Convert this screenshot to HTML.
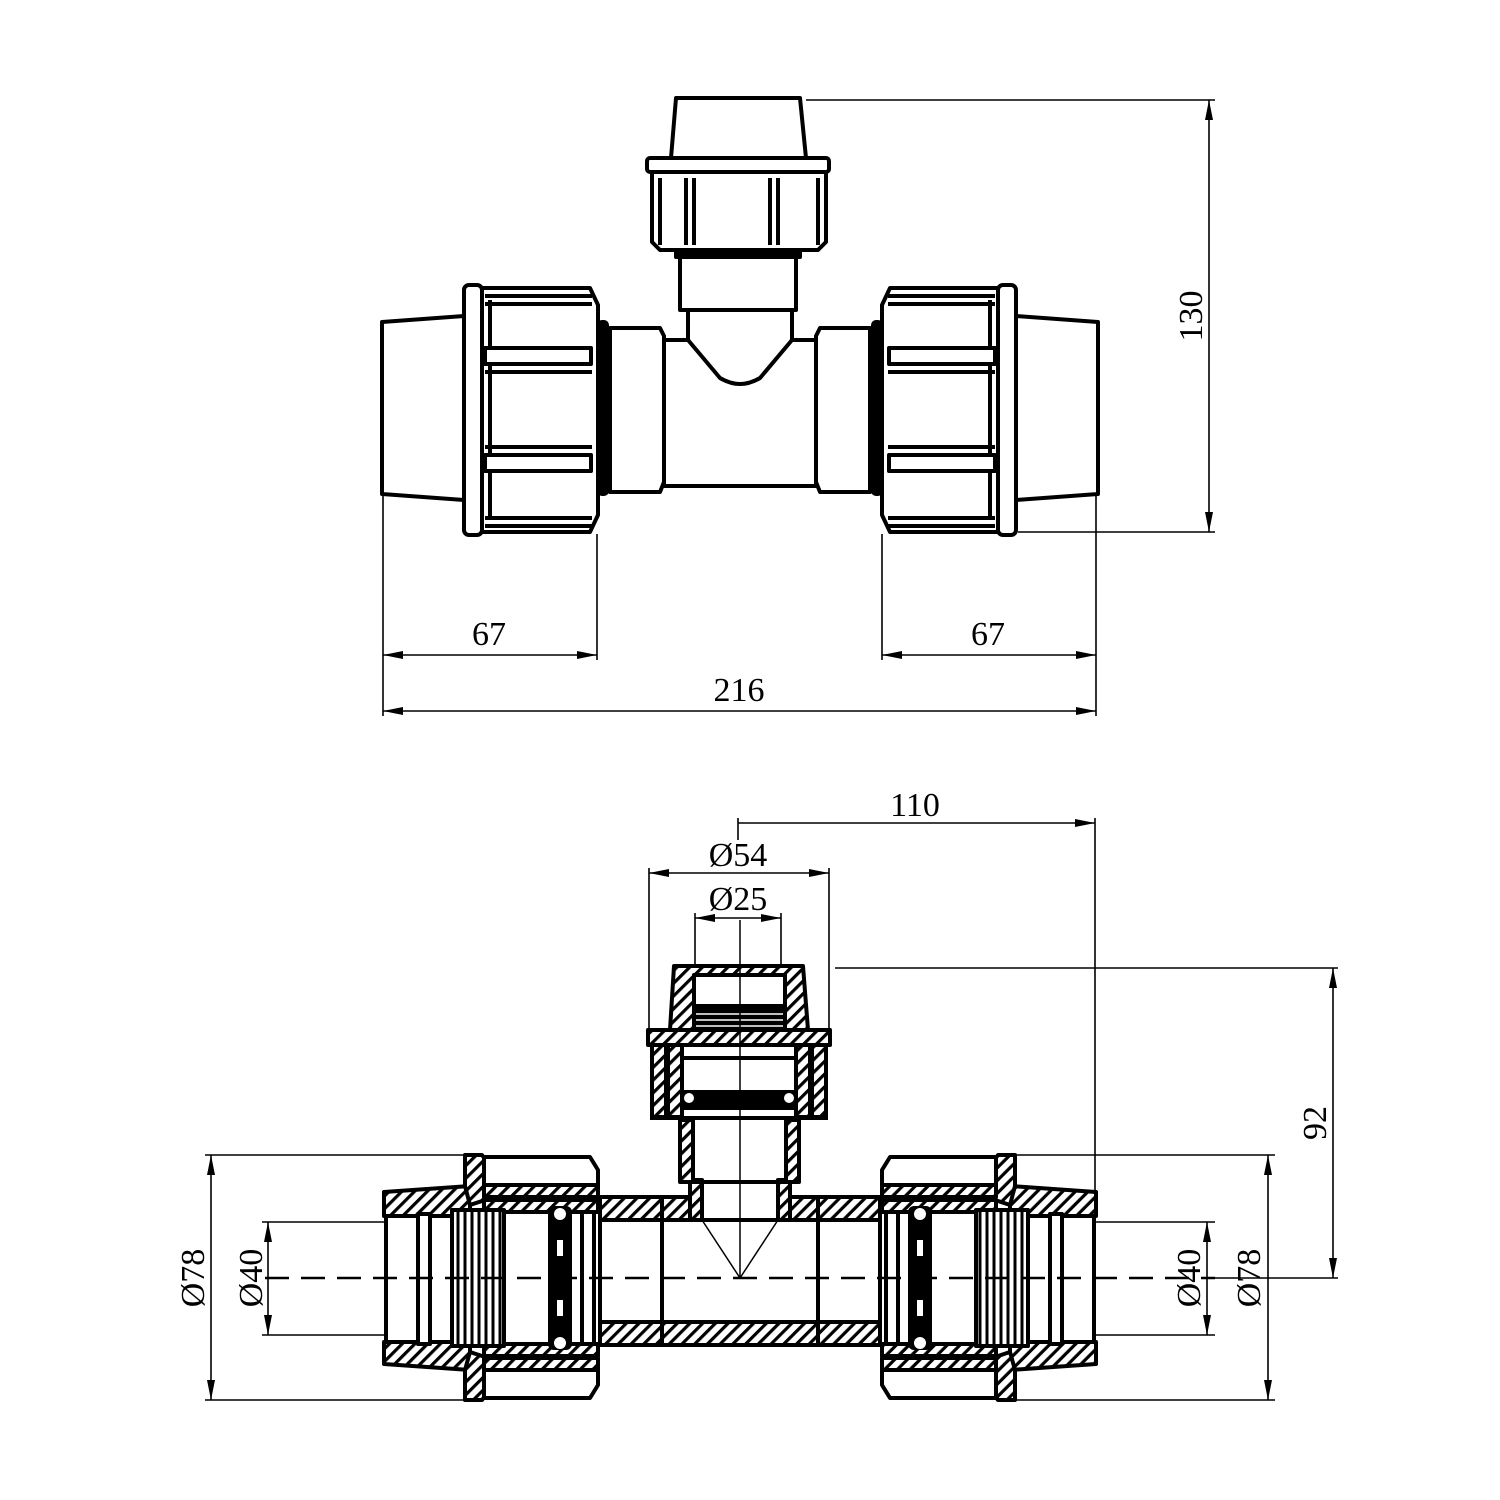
<!DOCTYPE html>
<html><head><meta charset="utf-8"><style>
html,body{margin:0;padding:0;background:#fff;}
svg{display:block;}
text{font-family:"Liberation Serif",serif;font-size:34px;fill:#000;}
</style></head><body>
<svg width="1500" height="1500" viewBox="0 0 1500 1500" xmlns="http://www.w3.org/2000/svg">
<defs>
<pattern id="h" patternUnits="userSpaceOnUse" width="9" height="9" patternTransform="rotate(45)">
<rect width="9" height="9" fill="#fff"/><rect x="0" y="0" width="3.2" height="9" fill="#000"/>
</pattern>
<pattern id="h2" patternUnits="userSpaceOnUse" width="9" height="9" patternTransform="rotate(-45)">
<rect width="9" height="9" fill="#fff"/><rect x="0" y="0" width="3.2" height="9" fill="#000"/>
</pattern>
<marker id="a" viewBox="0 0 20 8" refX="20" refY="4" markerWidth="20" markerHeight="8" orient="auto-start-reverse" markerUnits="userSpaceOnUse">
<path d="M0,0 L20,4 L0,8 z" fill="#000"/>
</marker>
<g id="topHalf" fill="#fff" stroke="#000" stroke-width="4" stroke-linejoin="round">
<path d="M382,322 L464,316 L464,500 L382,494 Z"/>
<rect x="464" y="285" width="18" height="250" rx="5"/>
<path d="M482,288 L590,288 L598,305 L598,515 L590,532 L482,532 Z"/>
<line x1="490" y1="300" x2="490" y2="520"/>
<line x1="485" y1="296" x2="592" y2="296"/>
<line x1="485" y1="304" x2="592" y2="304"/>
<line x1="485" y1="518" x2="592" y2="518"/>
<line x1="485" y1="526" x2="592" y2="526"/>
<rect x="485" y="348" width="106" height="16"/>
<line x1="485" y1="372" x2="592" y2="372"/>
<rect x="485" y="455" width="106" height="16"/>
<line x1="485" y1="447" x2="592" y2="447"/>
<rect x="599" y="322" width="8" height="172" rx="3" fill="#000"/>
<path d="M610,328 L660,328 L664,336 L664,482 L660,492 L610,492 Z"/>
</g>
<g id="botHalf" stroke="#000" stroke-width="4" stroke-linejoin="round">
<path d="M384,1192 L470,1186 L470,1216 L384,1216 Z"/>
<path d="M384,1342 L470,1342 L470,1370 L384,1364 Z"/>
<line x1="386" y1="1216" x2="386" y2="1342" />
<line x1="430" y1="1216" x2="430" y2="1342"/>
<rect x="418" y="1214" width="12" height="130" fill="#fff"/>
<path d="M465,1155 L482,1155 L500,1180 L500,1195 L470,1205 L465,1186 Z"/>
<path d="M465,1400 L482,1400 L500,1376 L500,1362 L470,1352 L465,1370 Z"/>
<path d="M484,1157 L590,1157 L598,1170 L598,1185 L484,1185 Z" fill="#fff"/>
<rect x="484" y="1185" width="114" height="12"/>
<rect x="484" y="1200" width="114" height="12"/>
<path d="M484,1398 L590,1398 L598,1385 L598,1370 L484,1370 Z" fill="#fff"/>
<rect x="484" y="1358" width="114" height="12"/>
<rect x="484" y="1344" width="114" height="12"/>
<rect x="452" y="1210" width="52" height="136" fill="#fff"/>
<g stroke-width="3">
<line x1="458" y1="1210" x2="458" y2="1346"/><line x1="465" y1="1210" x2="465" y2="1346"/>
<line x1="472" y1="1210" x2="472" y2="1346"/><line x1="479" y1="1210" x2="479" y2="1346"/>
<line x1="486" y1="1210" x2="486" y2="1346"/><line x1="493" y1="1210" x2="493" y2="1346"/>
<line x1="500" y1="1210" x2="500" y2="1346"/>
</g>
<rect x="550" y="1208" width="20" height="140" fill="#000" rx="4"/>
<circle cx="560" cy="1214" r="6" fill="#fff" stroke="none"/>
<circle cx="560" cy="1343" r="6" fill="#fff" stroke="none"/>
<rect x="557" y="1240" width="6" height="16" fill="#fff" stroke="none"/>
<rect x="557" y="1300" width="6" height="16" fill="#fff" stroke="none"/>
<line x1="582" y1="1210" x2="582" y2="1346"/>
<line x1="594" y1="1210" x2="594" y2="1346"/>
<path d="M600,1197 L662,1197 L668,1220 L600,1220 Z"/>
<path d="M600,1322 L668,1322 L662,1345 L600,1345 Z"/>
<line x1="600" y1="1220" x2="600" y2="1322"/>
<line x1="662" y1="1220" x2="662" y2="1322"/>
</g>
</defs>

<!-- TOP VIEW -->
<g fill="#fff" stroke="#000" stroke-width="4" stroke-linejoin="round">
<use href="#topHalf"/>
<use href="#topHalf" transform="translate(1480,0) scale(-1,1)"/>
<rect x="664" y="340" width="152" height="146"/>
<path d="M688,310 L792,310 L792,340 L760,378 Q740,390 720,378 L688,340 Z"/>
<rect x="680" y="256" width="116" height="54"/>
<rect x="676" y="249" width="124" height="8" fill="#000"/>
<path d="M652,172 L826,172 L826,242 L818,250 L660,250 L652,242 Z"/>
<rect x="647" y="158" width="182" height="14" rx="3"/>
<line x1="660" y1="178" x2="660" y2="245"/>
<line x1="818" y1="178" x2="818" y2="245"/>
<line x1="686" y1="178" x2="686" y2="245"/>
<line x1="694" y1="178" x2="694" y2="245"/>
<line x1="770" y1="178" x2="770" y2="245"/>
<line x1="778" y1="178" x2="778" y2="245"/>
<path d="M676,98 L800,98 L806,158 L671,158 Z"/>
</g>

<g stroke="#000" stroke-width="1.6" fill="none">
<line x1="806" y1="100" x2="1215" y2="100"/>
<line x1="1018" y1="532" x2="1215" y2="532"/>
<line x1="1209" y1="100" x2="1209" y2="532" marker-start="url(#a)" marker-end="url(#a)"/>
<line x1="383" y1="496" x2="383" y2="716"/>
<line x1="597" y1="534" x2="597" y2="660"/>
<line x1="882" y1="534" x2="882" y2="660"/>
<line x1="1096" y1="496" x2="1096" y2="716"/>
<line x1="383" y1="655" x2="597" y2="655" marker-start="url(#a)" marker-end="url(#a)"/>
<line x1="882" y1="655" x2="1096" y2="655" marker-start="url(#a)" marker-end="url(#a)"/>
<line x1="383" y1="711" x2="1096" y2="711" marker-start="url(#a)" marker-end="url(#a)"/>
</g>
<text x="489" y="645" text-anchor="middle">67</text>
<text x="988" y="645" text-anchor="middle">67</text>
<text x="739" y="701" text-anchor="middle">216</text>
<text transform="translate(1202,316) rotate(-90)" text-anchor="middle">130</text>

<!-- BOTTOM VIEW -->
<use href="#botHalf" fill="url(#h)"/>
<use href="#botHalf" fill="url(#h2)" transform="translate(1480,0) scale(-1,1)"/>
<g stroke="#000" stroke-width="4" stroke-linejoin="round">
<path d="M662,1220 L690,1220 L690,1197 L662,1197 Z" fill="url(#h)"/>
<path d="M790,1197 L818,1197 L818,1220 L790,1220 Z" fill="url(#h)"/>
<rect x="662" y="1322" width="156" height="23" fill="url(#h)"/>
<line x1="662" y1="1220" x2="818" y2="1220"/>
<rect x="690" y="1180" width="12" height="40" fill="url(#h)"/>
<rect x="778" y="1180" width="12" height="40" fill="url(#h)"/>
<rect x="680" y="1120" width="13" height="62" fill="url(#h)"/>
<rect x="786" y="1120" width="13" height="62" fill="url(#h)"/>
<line x1="680" y1="1182" x2="799" y2="1182"/>
<path d="M648,1030 L830,1030 L830,1045 L648,1045 Z" fill="url(#h)"/>
<rect x="652" y="1045" width="14" height="72" fill="url(#h)"/>
<rect x="812" y="1045" width="14" height="72" fill="url(#h)"/>
<rect x="668" y="1045" width="14" height="72" fill="url(#h)"/>
<rect x="796" y="1045" width="14" height="72" fill="url(#h)"/>
<line x1="650" y1="1118" x2="828" y2="1118"/>
<rect x="682" y="1058" width="114" height="40" fill="#fff"/>
<rect x="682" y="1092" width="114" height="12" fill="#000"/>
<circle cx="689" cy="1098" r="5" fill="#fff" stroke="none"/>
<circle cx="789" cy="1098" r="5" fill="#fff" stroke="none"/>
<line x1="682" y1="1108" x2="796" y2="1108"/>
<path d="M674,966 L803,966 L808,1030 L670,1030 Z" fill="url(#h)"/>
<rect x="694" y="975" width="91" height="55" fill="#fff"/>
<rect x="694" y="1006" width="91" height="22" fill="#000"/>
<g stroke="#fff" stroke-width="1.5"><line x1="696" y1="1014" x2="783" y2="1014"/><line x1="696" y1="1020" x2="783" y2="1020"/><line x1="696" y1="1026" x2="783" y2="1026"/></g>
</g>
<g stroke="#000" stroke-width="1.5" fill="none">
<line x1="702" y1="1220" x2="740" y2="1278"/>
<line x1="778" y1="1220" x2="740" y2="1278"/>
<line x1="740" y1="920" x2="740" y2="1278"/>
<line x1="265" y1="1278" x2="1215" y2="1278" stroke-width="2.5" stroke-dasharray="24,12"/>
</g>

<g stroke="#000" stroke-width="1.6" fill="none">
<line x1="738" y1="818" x2="738" y2="840"/>
<line x1="1095" y1="818" x2="1095" y2="1190"/>
<line x1="738" y1="823" x2="1095" y2="823" marker-end="url(#a)"/>
<line x1="649" y1="868" x2="649" y2="1030"/>
<line x1="829" y1="868" x2="829" y2="1030"/>
<line x1="649" y1="873" x2="829" y2="873" marker-start="url(#a)" marker-end="url(#a)"/>
<line x1="695" y1="913" x2="695" y2="968"/>
<line x1="781" y1="913" x2="781" y2="968"/>
<line x1="695" y1="918" x2="781" y2="918" marker-start="url(#a)" marker-end="url(#a)"/>
<line x1="835" y1="968" x2="1338" y2="968"/>
<line x1="1215" y1="1278" x2="1338" y2="1278"/>
<line x1="1333" y1="968" x2="1333" y2="1278" marker-start="url(#a)" marker-end="url(#a)"/>
<line x1="205" y1="1155" x2="465" y2="1155"/>
<line x1="205" y1="1400" x2="465" y2="1400"/>
<line x1="211" y1="1155" x2="211" y2="1400" marker-start="url(#a)" marker-end="url(#a)"/>
<line x1="262" y1="1222" x2="386" y2="1222"/>
<line x1="262" y1="1335" x2="386" y2="1335"/>
<line x1="268" y1="1222" x2="268" y2="1335" marker-start="url(#a)" marker-end="url(#a)"/>
<line x1="1015" y1="1155" x2="1275" y2="1155"/>
<line x1="1015" y1="1400" x2="1275" y2="1400"/>
<line x1="1268" y1="1155" x2="1268" y2="1400" marker-start="url(#a)" marker-end="url(#a)"/>
<line x1="1094" y1="1222" x2="1215" y2="1222"/>
<line x1="1094" y1="1335" x2="1215" y2="1335"/>
<line x1="1207" y1="1222" x2="1207" y2="1335" marker-start="url(#a)" marker-end="url(#a)"/>
</g>
<text x="915" y="816" text-anchor="middle">110</text>
<text x="738" y="866" text-anchor="middle">Ø54</text>
<text x="738" y="910" text-anchor="middle">Ø25</text>
<text transform="translate(1326,1123) rotate(-90)" text-anchor="middle">92</text>
<text transform="translate(204,1278) rotate(-90)" text-anchor="middle">Ø78</text>
<text transform="translate(262,1278) rotate(-90)" text-anchor="middle">Ø40</text>
<text transform="translate(1200,1278) rotate(-90)" text-anchor="middle">Ø40</text>
<text transform="translate(1260,1278) rotate(-90)" text-anchor="middle">Ø78</text>
</svg>
</body></html>
